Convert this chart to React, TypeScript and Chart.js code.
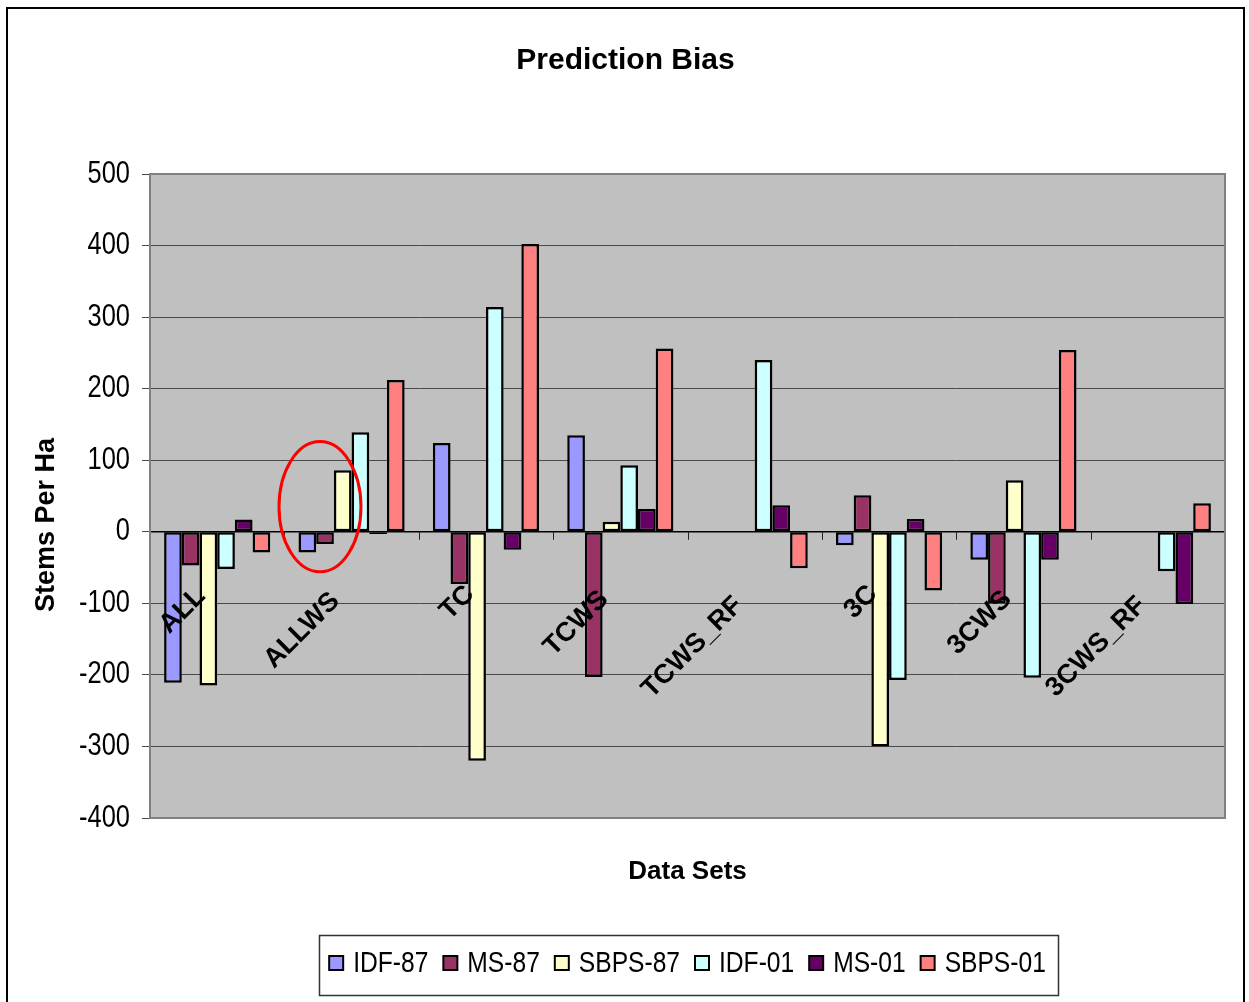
import React, { useEffect, useRef } from "react";
import { Chart, registerables } from "chart.js";

Chart.register(...registerables);

// Data sets on the category axis
const categories = ["ALL", "ALLWS", "TC", "TCWS", "TCWS_RF", "3C", "3CWS", "3CWS_RF"];

// Prediction bias (stems per ha) for each model
const idf87 = [-211, -29, 124, 135, null, -19, -39, null];
const ms87 = [-47, -17, -73, -203, null, 51, -100, null];
const sbps87 = [-215, 86, -320, 14, null, -300, 72, null];
const idf01 = [-52, 139, 314, 93, 240, -207, -204, -55];
const ms01 = [17, -3, -25, 32, 37, 18, -39, -101];
const sbps01 = [-29, 212, 402, 256, -51, -82, 254, 40];

const seriesNames = ["IDF-87", "MS-87", "SBPS-87", "IDF-01", "MS-01", "SBPS-01"];
const seriesValues = [idf87, ms87, sbps87, idf01, ms01, sbps01];
const seriesColors = ["#9999FF", "#993366", "#FFFFCC", "#CCFFFF", "#660066", "#FF8080"];

// Value axis range
const yMin = -400;
const yMax = 500;
const yStep = 100;

// Highlight ring around the ALLWS IDF-87 / MS-87 pair (category units / value units)
const highlightCategory = 1;
const highlightOffset = -0.235;
const highlightValue = 35;
const highlightHalfWidth = 0.305;
const highlightHalfHeight = 91;

const SANS = "'Liberation Sans', Arial, sans-serif";
// narrow face emulated by squeezing the regular face horizontally
const NARROW_SCALE = 0.82;

function narrowText(ctx: CanvasRenderingContext2D, text: string, x: number, y: number, align: CanvasTextAlign) {
  ctx.save();
  ctx.translate(x, y);
  ctx.scale(NARROW_SCALE, 1);
  ctx.textAlign = align;
  ctx.fillText(text, 0, 0);
  ctx.restore();
}

const plotBackground = {
  id: "plotBackground",
  beforeDraw(chart: any) {
    const { ctx, chartArea: a } = chart;
    ctx.save();
    ctx.fillStyle = "#C0C0C0";
    ctx.fillRect(a.left, a.top, a.right - a.left, a.bottom - a.top);
    ctx.restore();
  },
};

const plotDecorations = {
  id: "plotDecorations",
  afterDatasetsDraw(chart: any) {
    const { ctx, chartArea: a } = chart;
    const xs = chart.scales.x;
    const ys = chart.scales.y;
    const zeroY = ys.getPixelForValue(0);
    const n = chart.data.labels.length;
    const catW = (a.right - a.left) / n;

    ctx.save();
    // zero line
    ctx.strokeStyle = "#000";
    ctx.lineWidth = 1.5;
    ctx.beginPath();
    ctx.moveTo(a.left, zeroY);
    ctx.lineTo(a.right, zeroY);
    ctx.stroke();

    // category tick marks below the zero line
    ctx.lineWidth = 1;
    ctx.strokeStyle = "#222";
    for (let i = 1; i <= n; i++) {
      const x = Math.round(xs.getPixelForValue(i - 1) + catW / 2) + 0.5;
      ctx.beginPath();
      ctx.moveTo(x, zeroY);
      ctx.lineTo(x, zeroY + 8);
      ctx.stroke();
    }

    // plot frame
    ctx.strokeStyle = "#808080";
    ctx.lineWidth = 2;
    ctx.strokeRect(a.left, a.top, a.right - a.left, a.bottom - a.top);

    // value tick labels
    ctx.fillStyle = "#000";
    ctx.font = `31px ${SANS}`;
    ctx.textBaseline = "middle";
    ys.ticks.forEach((t: any) => {
      narrowText(ctx, String(t.value), a.left - 20, ys.getPixelForValue(t.value), "right");
    });

    // rotated category labels next to the zero line
    ctx.font = `bold 27px ${SANS}`;
    ctx.textAlign = "right";
    ctx.textBaseline = "middle";
    chart.data.labels.forEach((label: string, i: number) => {
      const cx = xs.getPixelForValue(i);
      const w = ctx.measureText(label).width;
      ctx.save();
      ctx.translate(cx - 16, zeroY + 54 + 0.12 * w);
      ctx.rotate(-Math.PI / 4);
      ctx.fillText(label, 0, 0);
      ctx.restore();
    });

    // highlight ring
    const ex = xs.getPixelForValue(highlightCategory) + highlightOffset * catW;
    const ey = ys.getPixelForValue(highlightValue);
    const rx = highlightHalfWidth * catW;
    const ry = Math.abs(ys.getPixelForValue(highlightValue + highlightHalfHeight) - ey);
    ctx.strokeStyle = "#FF0000";
    ctx.lineWidth = 3;
    ctx.beginPath();
    ctx.ellipse(ex, ey, rx, ry, 0, 0, Math.PI * 2);
    ctx.stroke();

    // value axis title
    ctx.font = `bold 27px ${SANS}`;
    ctx.textAlign = "center";
    ctx.textBaseline = "middle";
    ctx.translate(39, 516);
    ctx.rotate(-Math.PI / 2);
    ctx.fillText("Stems Per Ha", 0, 0);
    ctx.restore();
  },
  afterDraw(chart: any) {
    // boxed legend below the axis title, centred on the plot
    const { ctx, chartArea: a } = chart;
    const datasets = chart.data.datasets;
    const box = 14;
    const textGap = 10;
    const itemGap = 15;
    ctx.save();
    ctx.font = `30px ${SANS}`;
    const widths = datasets.map((d: any) => ctx.measureText(d.label).width * NARROW_SCALE);
    const total = widths.reduce((s: number, w: number) => s + box + textGap + w, 0) + itemGap * (datasets.length - 1);
    const cy = 954;
    let x = (a.left + a.right) / 2 - total / 2;
    const left = x;

    ctx.strokeStyle = "#333";
    ctx.lineWidth = 1.5;
    ctx.strokeRect(Math.round(left - 10) + 0.5, 926.5, Math.round(total + 22), 60);

    ctx.textBaseline = "middle";
    ctx.fillStyle = "#000";
    datasets.forEach((d: any, i: number) => {
      ctx.fillStyle = d.backgroundColor;
      ctx.fillRect(x, cy - box / 2, box, box);
      ctx.strokeStyle = "#000";
      ctx.lineWidth = 2;
      ctx.strokeRect(x, cy - box / 2, box, box);
      ctx.fillStyle = "#000";
      narrowText(ctx, d.label, x + box + textGap, cy + 1, "left");
      x += box + textGap + widths[i] + itemGap;
    });
    ctx.restore();
  },
};

export default function App() {
  const canvasRef = useRef<HTMLCanvasElement>(null);

  useEffect(() => {
    const canvas = canvasRef.current;
    if (!canvas) return;
    const chart = new Chart(canvas, {
      type: "bar",
      data: {
        labels: categories,
        datasets: seriesNames.map((name, i) => ({
          label: name,
          data: seriesValues[i],
          backgroundColor: seriesColors[i],
          borderColor: "#000",
          borderWidth: 2.5,
          borderSkipped: false,
          categoryPercentage: 0.79,
          barPercentage: 1,
        })),
      },
      options: {
        responsive: false,
        animation: false,
        layout: { padding: { left: 18, right: 18, top: 0, bottom: 61.5 } },
        plugins: {
          title: {
            display: true,
            text: "Prediction Bias",
            color: "#000",
            font: { family: SANS, size: 30, weight: "bold" },
            padding: { top: 34, bottom: 95 },
          },
          legend: { display: false },
          tooltip: { enabled: false },
        },
        scales: {
          x: {
            position: "bottom",
            grid: { display: false },
            border: { display: false },
            ticks: { display: false },
            title: {
              display: true,
              text: "Data Sets",
              color: "#000",
              font: { family: SANS, size: 26, weight: "bold" },
              padding: { top: 0, bottom: 52.9 },
            },
            afterFit: (s: any) => {
              s.height = 122.5;
            },
          },
          y: {
            min: yMin,
            max: yMax,
            ticks: { stepSize: yStep, display: false },
            grid: {
              color: "#4a4a4a",
              lineWidth: 1,
              tickLength: 8,
            },
            border: { display: true, color: "#555", width: 1 },
            afterFit: (s: any) => {
              s.width = 124;
            },
          },
        },
      },
      plugins: [plotBackground, plotDecorations],
    });
    return () => chart.destroy();
  }, []);

  return (
    <div
      style={{
        position: "absolute",
        left: 6,
        top: 7,
        width: 1235,
        height: 993,
        borderTop: "2px solid #000",
        borderLeft: "2px solid #000",
        borderRight: "2px solid #000",
        background: "#fff",
      }}
    >
      <canvas ref={canvasRef} width={1235} height={993} style={{ display: "block", width: 1235, height: 993 }} />
    </div>
  );
}
